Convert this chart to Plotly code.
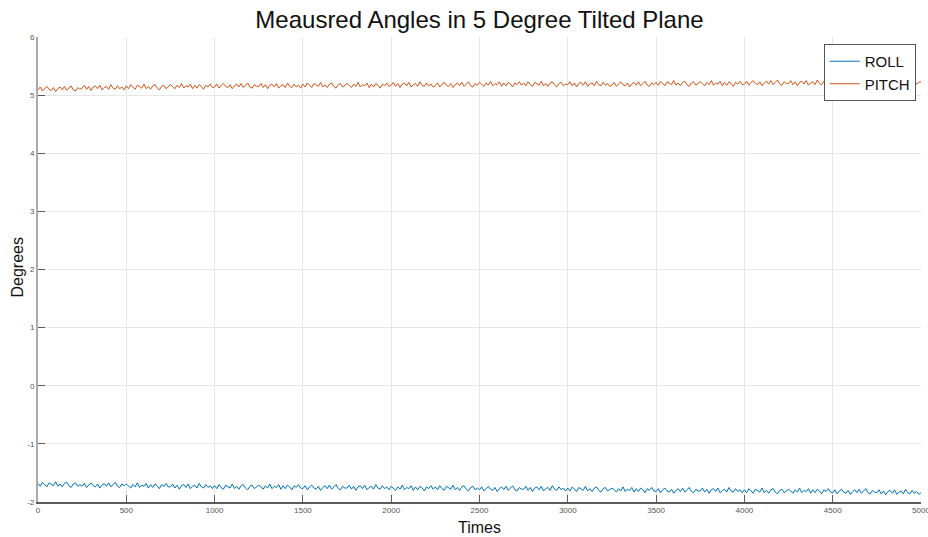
import plotly.graph_objects as go

# Time axis (sample every 12.5 time units)
times = [i * 12.5 for i in range(401)]

roll = [
    -1.68,-1.73,-1.66,-1.71,-1.74,-1.67,-1.70,-1.72,-1.65,-1.73,-1.69,-1.74,-1.68,-1.66,-1.72,-1.75,-1.69,-1.67,-1.73,-1.70,
    -1.73,-1.68,-1.75,-1.70,-1.67,-1.72,-1.74,-1.69,-1.76,-1.71,-1.68,-1.73,-1.67,-1.74,-1.70,-1.66,-1.73,-1.75,-1.69,-1.72,
    -1.69,-1.72,-1.76,-1.70,-1.74,-1.67,-1.75,-1.71,-1.73,-1.68,-1.76,-1.70,-1.75,-1.69,-1.72,-1.77,-1.70,-1.73,-1.68,-1.74,
    -1.74,-1.69,-1.76,-1.71,-1.78,-1.72,-1.70,-1.75,-1.69,-1.77,-1.73,-1.71,-1.76,-1.68,-1.74,-1.76,-1.70,-1.75,-1.72,-1.77,
    -1.72,-1.77,-1.70,-1.75,-1.78,-1.71,-1.74,-1.76,-1.69,-1.77,-1.73,-1.78,-1.72,-1.70,-1.76,-1.79,-1.73,-1.71,-1.77,-1.74,
    -1.71,-1.74,-1.78,-1.72,-1.76,-1.69,-1.77,-1.73,-1.75,-1.70,-1.78,-1.72,-1.77,-1.71,-1.74,-1.79,-1.72,-1.75,-1.70,-1.76,
    -1.77,-1.72,-1.79,-1.74,-1.71,-1.76,-1.78,-1.73,-1.80,-1.75,-1.72,-1.77,-1.71,-1.78,-1.74,-1.70,-1.77,-1.79,-1.73,-1.76,
    -1.76,-1.71,-1.78,-1.73,-1.80,-1.74,-1.72,-1.77,-1.71,-1.79,-1.75,-1.73,-1.78,-1.70,-1.76,-1.78,-1.72,-1.77,-1.74,-1.79,
    -1.73,-1.76,-1.80,-1.74,-1.78,-1.71,-1.79,-1.75,-1.77,-1.72,-1.80,-1.74,-1.79,-1.73,-1.76,-1.81,-1.74,-1.77,-1.72,-1.78,
    -1.74,-1.79,-1.72,-1.77,-1.80,-1.73,-1.76,-1.78,-1.71,-1.79,-1.75,-1.80,-1.74,-1.72,-1.78,-1.81,-1.75,-1.73,-1.79,-1.76,
    -1.79,-1.74,-1.81,-1.76,-1.73,-1.78,-1.80,-1.75,-1.82,-1.77,-1.74,-1.79,-1.73,-1.80,-1.76,-1.72,-1.79,-1.81,-1.75,-1.78,
    -1.78,-1.73,-1.80,-1.75,-1.82,-1.76,-1.74,-1.79,-1.73,-1.81,-1.77,-1.75,-1.80,-1.72,-1.78,-1.80,-1.74,-1.79,-1.76,-1.81,
    -1.76,-1.81,-1.74,-1.79,-1.82,-1.75,-1.78,-1.80,-1.73,-1.81,-1.77,-1.82,-1.76,-1.74,-1.80,-1.83,-1.77,-1.75,-1.81,-1.78,
    -1.76,-1.79,-1.83,-1.77,-1.81,-1.74,-1.82,-1.78,-1.80,-1.75,-1.83,-1.77,-1.82,-1.76,-1.79,-1.84,-1.77,-1.80,-1.75,-1.81,
    -1.82,-1.77,-1.84,-1.79,-1.76,-1.81,-1.83,-1.78,-1.85,-1.80,-1.77,-1.82,-1.76,-1.83,-1.79,-1.75,-1.82,-1.84,-1.78,-1.81,
    -1.81,-1.76,-1.83,-1.78,-1.85,-1.79,-1.77,-1.82,-1.76,-1.84,-1.80,-1.78,-1.83,-1.75,-1.81,-1.83,-1.77,-1.82,-1.79,-1.84,
    -1.79,-1.84,-1.77,-1.82,-1.85,-1.78,-1.81,-1.83,-1.76,-1.84,-1.80,-1.85,-1.79,-1.77,-1.83,-1.86,-1.80,-1.78,-1.84,-1.81,
    -1.78,-1.81,-1.85,-1.79,-1.83,-1.76,-1.84,-1.80,-1.82,-1.77,-1.85,-1.79,-1.84,-1.78,-1.81,-1.86,-1.79,-1.82,-1.77,-1.83,
    -1.84,-1.79,-1.86,-1.81,-1.78,-1.83,-1.85,-1.80,-1.87,-1.82,-1.79,-1.84,-1.78,-1.85,-1.81,-1.77,-1.84,-1.86,-1.80,-1.83,
    -1.84,-1.79,-1.86,-1.81,-1.88,-1.82,-1.80,-1.85,-1.79,-1.87,-1.83,-1.81,-1.86,-1.78,-1.84,-1.86,-1.80,-1.85,-1.82,-1.87,
    -1.84,
]

pitch = [
    5.09,5.14,5.07,5.12,5.15,5.10,5.08,5.13,5.06,5.11,5.14,5.09,5.15,5.08,5.12,5.16,5.09,5.07,5.13,5.10,
    5.12,5.17,5.10,5.15,5.08,5.14,5.16,5.11,5.17,5.09,5.13,5.15,5.10,5.18,5.12,5.10,5.16,5.11,5.14,5.09,
    5.16,5.11,5.18,5.13,5.10,5.17,5.14,5.12,5.19,5.11,5.15,5.10,5.16,5.18,5.12,5.09,5.15,5.17,5.11,5.14,
    5.18,5.15,5.11,5.17,5.13,5.20,5.12,5.16,5.14,5.19,5.11,5.17,5.12,5.18,5.15,5.10,5.17,5.14,5.19,5.13,
    5.14,5.19,5.12,5.17,5.20,5.15,5.13,5.18,5.11,5.16,5.19,5.14,5.20,5.13,5.17,5.21,5.14,5.12,5.18,5.15,
    5.15,5.20,5.13,5.18,5.11,5.17,5.19,5.14,5.20,5.12,5.16,5.18,5.13,5.21,5.15,5.13,5.19,5.14,5.17,5.12,
    5.19,5.14,5.21,5.16,5.13,5.20,5.17,5.15,5.22,5.14,5.18,5.13,5.19,5.21,5.15,5.12,5.18,5.20,5.14,5.17,
    5.20,5.17,5.13,5.19,5.15,5.22,5.14,5.18,5.16,5.21,5.13,5.19,5.14,5.20,5.17,5.12,5.19,5.16,5.21,5.15,
    5.17,5.22,5.15,5.20,5.13,5.19,5.21,5.16,5.22,5.14,5.18,5.20,5.15,5.23,5.17,5.15,5.21,5.16,5.19,5.14,
    5.16,5.21,5.14,5.19,5.22,5.17,5.15,5.20,5.13,5.18,5.21,5.16,5.22,5.15,5.19,5.23,5.16,5.14,5.20,5.17,
    5.22,5.19,5.15,5.21,5.17,5.24,5.16,5.20,5.18,5.23,5.15,5.21,5.16,5.22,5.19,5.14,5.21,5.18,5.23,5.17,
    5.21,5.16,5.23,5.18,5.15,5.22,5.19,5.17,5.24,5.16,5.20,5.15,5.21,5.23,5.17,5.14,5.20,5.22,5.16,5.19,
    5.18,5.23,5.16,5.21,5.14,5.20,5.22,5.17,5.23,5.15,5.19,5.21,5.16,5.24,5.18,5.16,5.22,5.17,5.20,5.15,
    5.17,5.22,5.15,5.20,5.23,5.18,5.16,5.21,5.14,5.19,5.22,5.17,5.23,5.16,5.20,5.24,5.17,5.15,5.21,5.18,
    5.22,5.17,5.24,5.19,5.16,5.23,5.20,5.18,5.25,5.17,5.21,5.16,5.22,5.24,5.18,5.15,5.21,5.23,5.17,5.20,
    5.23,5.20,5.16,5.22,5.18,5.25,5.17,5.21,5.19,5.24,5.16,5.22,5.17,5.23,5.20,5.15,5.22,5.19,5.24,5.18,
    5.19,5.24,5.17,5.22,5.25,5.20,5.18,5.23,5.16,5.21,5.24,5.19,5.25,5.18,5.22,5.26,5.19,5.17,5.23,5.20,
    5.20,5.25,5.18,5.23,5.16,5.22,5.24,5.19,5.25,5.17,5.21,5.23,5.18,5.26,5.20,5.18,5.24,5.19,5.22,5.17,
    5.25,5.22,5.18,5.24,5.20,5.27,5.19,5.23,5.21,5.26,5.18,5.24,5.19,5.25,5.22,5.17,5.24,5.21,5.26,5.20,
    5.24,5.19,5.26,5.21,5.18,5.25,5.22,5.20,5.27,5.19,5.23,5.18,5.24,5.26,5.20,5.17,5.23,5.25,5.19,5.22,
    5.23,
]

x_ticks = [0, 500, 1000, 1500, 2000, 2500, 3000, 3500, 4000, 4500, 5000]
y_ticks = [-2, -1, 0, 1, 2, 3, 4, 5, 6]

FONT = "Arial, Liberation Sans, Helvetica, sans-serif"

fig = go.Figure()
fig.add_trace(go.Scatter(x=times, y=roll, mode="lines", name="ROLL",
                         line=dict(color="#0072BD", width=1)))
fig.add_trace(go.Scatter(x=times, y=pitch, mode="lines", name="PITCH",
                         line=dict(color="#D95319", width=1)))

fig.update_layout(
    width=928, height=537,
    margin=dict(l=38, r=7, t=37, b=35, autoexpand=False),
    paper_bgcolor="white", plot_bgcolor="white",
    font=dict(family=FONT, color="#222"),
    title=dict(text="Meausred Angles in 5 Degree Tilted Plane",
               x=0.5167, xanchor="center", y=0.963, yanchor="middle",
               font=dict(size=24, color="#111", family=FONT)),
    showlegend=True,
    legend=dict(x=0.994, xanchor="right", y=0.985, yanchor="top",
                bgcolor="white", bordercolor="#555", borderwidth=1,
                font=dict(size=15, color="#111", family=FONT),
                itemwidth=30, tracegroupgap=0),
    annotations=[
        dict(text="Times", xref="paper", yref="paper", x=0.5, y=0,
             xanchor="center", yanchor="middle", yshift=-25, showarrow=False,
             font=dict(size=16, color="#111", family=FONT)),
        dict(text="Degrees", xref="paper", yref="paper", x=0, y=0.5,
             xanchor="center", yanchor="middle", xshift=-21, yshift=2,
             textangle=-90, showarrow=False,
             font=dict(size=16, color="#111", family=FONT)),
    ],
)

fig.update_xaxes(
    range=[0, 5000], tickvals=x_ticks, ticktext=[str(v) for v in x_ticks],
    automargin=False, ticklabeloverflow="allow",
    showgrid=True, gridcolor="#e6e6e6", gridwidth=1,
    zeroline=False, showline=True, linecolor="#5a5a5a", linewidth=1.5,
    ticks="inside", ticklen=7, tickcolor="#5a5a5a", tickwidth=1,
    tickfont=dict(size=8, color="#555"),
)
fig.update_yaxes(
    range=[-2, 6], tickvals=y_ticks, ticktext=[str(v) for v in y_ticks],
    automargin=False, ticklabeloverflow="allow",
    showgrid=True, gridcolor="#e6e6e6", gridwidth=1,
    zeroline=False, showline=True, linecolor="#aaaaaa", linewidth=2,
    ticks="inside", ticklen=7, tickcolor="#5a5a5a", tickwidth=1,
    tickfont=dict(size=8, color="#555"),
)

fig.write_html(
    "out.html",
    config={"displayModeBar": False},
    post_script="document.body.style.margin='0';document.body.style.padding='0';"
                "document.body.style.overflow='hidden';",
)
